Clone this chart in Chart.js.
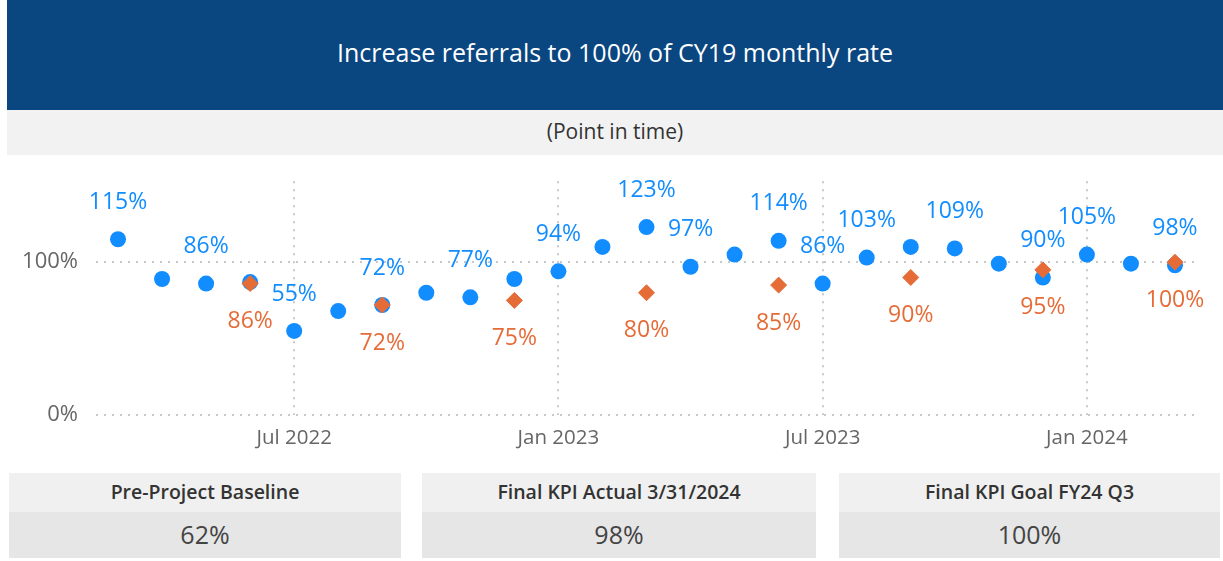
<!DOCTYPE html>
<html>
<head>
<meta charset="utf-8">
<script src="https://cdn.jsdelivr.net/npm/chart.js@4.4.1/dist/chart.umd.min.js"></script>
<style>
  body { margin: 0; width: 1223px; height: 561px; background: #fff; font-family: "Open Sans", sans-serif; position: relative; overflow: hidden; }
  .title { position: absolute; left: 7px; top: 0; width: 1216px; height: 104px; padding-bottom: 6px; background: #0a4680; color: #fff; font-size: 25px; font-weight: 500; display: flex; align-items: center; justify-content: center; }
  .sub { position: absolute; left: 7px; top: 110px; width: 1216px; height: 41px; padding-bottom: 4px; background: #f2f2f2; color: #333; font-size: 21px; display: flex; align-items: center; justify-content: center; }
  .wrap { position: absolute; left: 0; top: 150px; width: 1223px; height: 310px; }
  .card { position: absolute; top: 473px; height: 85px; }
  .card .h { height: 37px; padding-bottom: 2px; background: #f0f0f0; color: #333; font-weight: 600; font-size: 19.5px; display: flex; align-items: center; justify-content: center; }
  .card .v { height: 44px; padding-bottom: 2px; background: #e6e6e6; color: #444; font-size: 25px; display: flex; align-items: center; justify-content: center; }
</style>
</head>
<body>
<div class="title">Increase referrals to 100% of CY19 monthly rate</div>
<div class="sub">(Point in time)</div>
<div class="wrap"><canvas id="kpiChart"></canvas></div>
<div class="card" style="left:9px;width:392px"><div class="h">Pre-Project Baseline</div><div class="v">62%</div></div>
<div class="card" style="left:422px;width:394px"><div class="h">Final KPI Actual 3/31/2024</div><div class="v">98%</div></div>
<div class="card" style="left:839px;width:381px"><div class="h">Final KPI Goal FY24 Q3</div><div class="v">100%</div></div>
<script>
// months Mar 2022 .. Mar 2024
const months = ['Mar 2022','Apr 2022','May 2022','Jun 2022','Jul 2022','Aug 2022','Sep 2022','Oct 2022','Nov 2022','Dec 2022',
  'Jan 2023','Feb 2023','Mar 2023','Apr 2023','May 2023','Jun 2023','Jul 2023','Aug 2023','Sep 2023','Oct 2023','Nov 2023','Dec 2023',
  'Jan 2024','Feb 2024','Mar 2024'];
const tickMonths = ['Jul 2022', 'Jan 2023', 'Jul 2023', 'Jan 2024'];

const actual = [115, 89, 86, 87, 55, 68, 72, 80, 77, 89, 94, 110, 123, 97, 105, 114, 86, 103, 110, 109, 99, 90, 105, 99, 98];
// which actual points carry a label in the report
const actualLabeled = [1, 0, 1, 0, 1, 0, 1, 0, 1, 0, 1, 0, 1, 1, 0, 1, 1, 1, 0, 1, 0, 1, 1, 0, 1];
const goal = [null, null, null, 86, null, null, 72, null, null, 75, null, null, 80, null, null, 85, null, null, 90, null, null, 95, null, null, 100];

const blue = '#118dff';
const orange = '#e66c37';

const labelPlugin = {
  id: 'pointLabels',
  afterDatasetsDraw(chart) {
    const ctx = chart.ctx;
    ctx.save();
    ctx.font = '23px "Open Sans"';
    ctx.textAlign = 'center';
    ctx.textBaseline = 'middle';
    chart.getDatasetMeta(1).data.forEach((pt, i) => {
      if (!actualLabeled[i]) return;
      ctx.fillStyle = blue;
      ctx.fillText(actual[i] + '%', pt.x, pt.y - 37);
    });
    chart.getDatasetMeta(0).data.forEach((pt, i) => {
      if (goal[i] == null) return;
      ctx.fillStyle = orange;
      ctx.fillText(goal[i] + '%', pt.x, pt.y + 38);
    });
    ctx.restore();
  }
};

new Chart(document.getElementById('kpiChart'), {
  type: 'line',
  data: {
    labels: months,
    datasets: [
      {
        label: 'Goal',
        data: goal,
        showLine: false,
        pointStyle: 'rectRot',
        pointRadius: 8,
        backgroundColor: orange,
        borderColor: orange,
        borderWidth: 1,
        order: 1
      },
      {
        label: 'Actual',
        data: actual,
        showLine: false,
        pointStyle: 'circle',
        pointRadius: 8,
        backgroundColor: blue,
        borderColor: blue,
        borderWidth: 0,
        order: 2
      }
    ]
  },
  plugins: [labelPlugin],
  options: {
    responsive: true,
    maintainAspectRatio: false,
    animation: false,
    layout: { padding: { left: 0, right: 26, top: 12, bottom: 0 } },
    plugins: { legend: { display: false }, tooltip: { enabled: false } },
    scales: {
      x: {
        offset: true,
        afterFit: s => { s.height = 45; },
        border: { display: false, dash: [2, 6] },
        grid: {
          drawTicks: false,
          color: c => tickMonths.includes(months[c.index]) ? '#c8c8c8' : 'rgba(0,0,0,0)',
          lineWidth: 2
        },
        ticks: {
          autoSkip: false,
          maxRotation: 0,
          padding: 11,
          color: '#666',
          font: { family: 'Open Sans', size: 20.5 },
          callback: (v, i) => tickMonths.includes(months[i]) ? months[i] : ''
        }
      },
      y: {
        min: 0,
        max: 153,
        afterFit: s => { s.width = 96; },
        afterBuildTicks: s => { s.ticks = [{ value: 0 }, { value: 100 }]; },
        border: { display: false, dash: [2, 6] },
        grid: { drawTicks: false, color: '#c8c8c8', lineWidth: 2 },
        ticks: {
          padding: 18,
          color: '#666',
          font: { family: 'Open Sans', size: 22 },
          callback: v => v + '%'
        }
      }
    }
  }
});
</script>
</body>
</html>
